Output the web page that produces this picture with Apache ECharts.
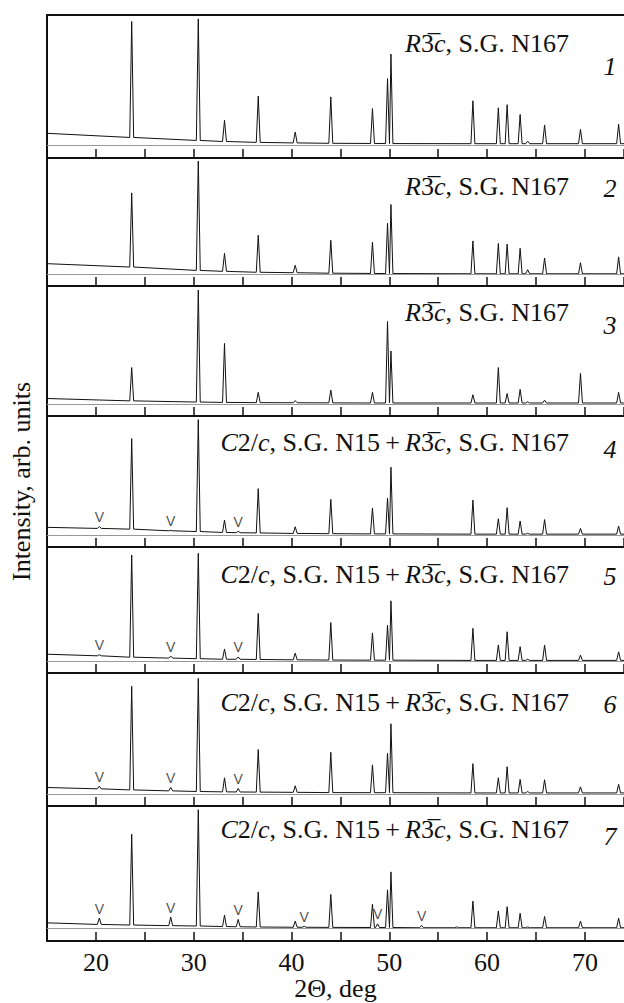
<!DOCTYPE html>
<html><head><meta charset="utf-8">
<script src="https://cdn.jsdelivr.net/npm/echarts@6/dist/echarts.min.js"></script>
<style>html,body{margin:0;padding:0;background:#fff}#c{width:624px;height:1003px}</style>
</head><body><div id="c"></div>
<script>
// ---- data ----
// 2Θ positions of reflections (deg)
const peakPos = [20.35, 23.66, 27.65, 30.47, 33.15, 34.55, 36.6, 40.38, 41.3, 44.02, 48.28, 48.8, 49.82, 50.17, 53.3, 56.9, 58.55, 61.15, 62.05, 63.38, 64.15, 65.88, 69.55, 73.45];
// peak tops per pattern (normalized intensity), null = no reflection
const height1 = [null, 0.95, null, 0.97, 0.19, null, 0.376, 0.10, null, 0.37, 0.28, null, 0.51, 0.70, null, null, 0.34, 0.286, 0.31, 0.235, 0.03, 0.154, 0.12, 0.16];
const height2 = [null, 0.70, null, 0.974, 0.18, null, 0.336, 0.078, null, 0.293, 0.276, null, 0.44, 0.60, null, null, 0.287, 0.265, 0.26, 0.224, 0.04, 0.14, 0.10, 0.15];
const height3 = [null, 0.31, null, 0.966, 0.514, null, 0.10, 0.03, null, 0.12, 0.10, null, 0.70, 0.45, null, null, 0.08, 0.31, 0.09, 0.125, 0.02, 0.034, 0.26, 0.10];
const height4 = [0.072, 0.81, 0.04, 0.97, 0.126, 0.032, 0.39, 0.07, null, 0.30, 0.227, null, 0.31, 0.57, null, null, 0.294, 0.137, 0.23, 0.118, 0.015, 0.13, 0.056, 0.076];
const height5 = [0.06, 0.93, 0.048, 0.945, 0.11, 0.04, 0.42, 0.073, null, 0.34, 0.25, null, 0.317, 0.53, null, null, 0.29, 0.145, 0.26, 0.13, 0.02, 0.143, 0.056, 0.085];
const height6 = [0.064, 0.89, 0.053, 0.956, 0.133, 0.045, 0.367, 0.067, null, 0.344, 0.24, null, 0.336, 0.58, null, null, 0.25, 0.133, 0.225, 0.12, 0.02, 0.117, 0.058, 0.08];
const height7 = [0.087, 0.77, 0.095, 0.97, 0.11, 0.076, 0.30, 0.062, 0.02, 0.28, 0.20, 0.04, 0.317, 0.463, 0.027, 0.015, 0.225, 0.145, 0.18, 0.126, 0.015, 0.10, 0.062, 0.087];
// background level under each reflection
const bg1 = [0.075, 0.058, 0.045, 0.035, 0.027, 0.024, 0.02, 0.016, 0.015, 0.013, 0.012, 0.011, 0.011, 0.011, 0.01, 0.01, 0.01, 0.01, 0.01, 0.01, 0.01, 0.01, 0.01, 0.01];
const bg2 = [0.075, 0.063, 0.045, 0.034, 0.026, 0.022, 0.018, 0.014, 0.012, 0.01, 0.008, 0.007, 0.007, 0.007, 0.006, 0.006, 0.005, 0.005, 0.005, 0.005, 0.005, 0.005, 0.005, 0.005];
const bg3 = [0.036, 0.028, 0.022, 0.018, 0.015, 0.014, 0.013, 0.012, 0.012, 0.011, 0.01, 0.01, 0.01, 0.01, 0.01, 0.01, 0.01, 0.01, 0.01, 0.01, 0.01, 0.01, 0.01, 0.01];
const bg4 = [0.056, 0.05, 0.036, 0.03, 0.022, 0.02, 0.018, 0.014, 0.013, 0.012, 0.01, 0.01, 0.01, 0.01, 0.008, 0.008, 0.008, 0.008, 0.008, 0.008, 0.008, 0.008, 0.008, 0.008];
const bg5 = [0.05, 0.038, 0.03, 0.025, 0.02, 0.02, 0.018, 0.015, 0.014, 0.013, 0.012, 0.012, 0.012, 0.012, 0.01, 0.01, 0.01, 0.01, 0.01, 0.01, 0.01, 0.01, 0.01, 0.01];
const bg6 = [0.042, 0.033, 0.025, 0.02, 0.017, 0.016, 0.015, 0.013, 0.012, 0.011, 0.01, 0.01, 0.01, 0.01, 0.008, 0.008, 0.008, 0.008, 0.008, 0.008, 0.008, 0.008, 0.008, 0.008];
const bg7 = [0.035, 0.03, 0.025, 0.022, 0.018, 0.016, 0.014, 0.012, 0.012, 0.011, 0.01, 0.01, 0.01, 0.01, 0.008, 0.008, 0.008, 0.008, 0.008, 0.008, 0.008, 0.008, 0.008, 0.008];
// background at 2Θ = 15 and at the right end
const bgEdge1 = [0.09, 0.01];
const bgEdge2 = [0.092, 0.005];
const bgEdge3 = [0.048, 0.01];
const bgEdge4 = [0.065, 0.008];
const bgEdge5 = [0.064, 0.01];
const bgEdge6 = [0.053, 0.008];
const bgEdge7 = [0.048, 0.008];
// reflections of the C2/c phase marked with "V"
const vMarks4 = [20.35, 27.65, 34.55];
const vMarks5 = [20.35, 27.65, 34.55];
const vMarks6 = [20.35, 27.65, 34.55];
const vMarks7 = [20.35, 27.65, 34.55, 41.3, 48.8, 53.3];
// texts
const tickLabels = [20, 30, 40, 50, 60, 70];
const phaseR = '{i|R}{n|3\u0305}{i|c}{n|, S.G. N167}';
const phaseCR = '{i|C}{n|2/}{i|c}{n|, S.G. N15\u2009+\u2009}{i|R}{n|3\u0305}{i|c}{n|, S.G. N167}';
const panelLabels = [phaseR, phaseR, phaseR, phaseCR, phaseCR, phaseCR, phaseCR];
const panelNumbers = ['1', '2', '3', '4', '5', '6', '7'];
const xTitle = '2\u0398, deg';
const yTitle = 'Intensity, arb. units';

// ---- layout ----
const heights = [height1, height2, height3, height4, height5, height6, height7];
const bgs = [bg1, bg2, bg3, bg4, bg5, bg6, bg7];
const edges = [bgEdge1, bgEdge2, bgEdge3, bgEdge4, bgEdge5, bgEdge6, bgEdge7];
const vMarks = [[], [], [], vMarks4, vMarks5, vMarks6, vMarks7];
const TOPS = [15, 158, 286, 416, 547, 673, 806];
const BOTS = [158, 286, 416, 547, 673, 806, 941];
const TEXT_Y = [43, 186, 312, 442, 574, 702, 829];
const NUM_Y = [66, 188, 325, 449, 576, 704, 836];
const XMIN = 15, XMAX = 74, HW = 0.2;
const SERIF = "'Liberation Serif', 'Times New Roman', serif";

function profile(h, bg, edge) {
  const pts = [[XMIN, edge[0]]];
  peakPos.forEach((p, i) => {
    if (h[i] == null) return;
    pts.push([p - HW, bg[i]], [p, h[i]], [p + HW, bg[i]]);
  });
  pts.push([XMAX, edge[1]]);
  return pts;
}

const grids = [], xAxes = [], yAxes = [], series = [], graphics = [];
for (let i = 0; i < 7; i++) {
  grids.push({ left: 47, right: 0, top: TOPS[i], height: BOTS[i] - TOPS[i], containLabel: false, outerBoundsMode: 'none' });
  const last = i === 6;
  xAxes.push({
    type: 'value', gridIndex: i, min: XMIN, max: XMAX, interval: 5,
    axisLine: { onZero: false, lineStyle: { color: '#111', width: 2 } },
    axisTick: { inside: true, length: 9, lineStyle: { color: '#111', width: 1.5 } },
    axisLabel: {
      show: last, margin: 8, showMinLabel: false, showMaxLabel: false,
      color: '#111', fontFamily: SERIF, fontSize: 26,
      formatter: v => tickLabels.includes(v) ? String(v) : ''
    },
    splitLine: { show: false },
    name: last ? xTitle : '', nameLocation: 'middle', nameGap: 33,
    nameTextStyle: { color: '#111', fontFamily: SERIF, fontSize: 26 }
  });
  yAxes.push({
    type: 'value', gridIndex: i, min: -0.1, max: 1,
    axisLine: { show: true, onZero: false, lineStyle: { color: '#111', width: 2 } },
    axisTick: { show: false }, axisLabel: { show: false }, splitLine: { show: false },
    name: i === 3 ? yTitle : '', nameLocation: 'middle', nameGap: 13, nameRotate: 90,
    nameTextStyle: { color: '#111', fontFamily: SERIF, fontSize: 26 }
  });
  series.push({
    type: 'line', xAxisIndex: i, yAxisIndex: i, data: profile(heights[i], bgs[i], edges[i]),
    symbol: 'none', lineStyle: { color: '#111', width: 1 }, silent: true, z: 3,
    markLine: {
      silent: true, symbol: 'none', label: { show: false },
      lineStyle: { color: '#999', width: 1, type: 'solid' },
      data: [{ yAxis: 0 }]
    }
  });
  if (vMarks[i].length) {
    series.push({
      type: 'scatter', xAxisIndex: i, yAxisIndex: i, symbolSize: 1,
      itemStyle: { color: 'rgba(0,0,0,0)' }, silent: true,
      data: vMarks[i].map(p => [p, heights[i][peakPos.indexOf(p)]]),
      label: { show: true, position: 'top', distance: 2, formatter: 'V',
        fontFamily: "'Liberation Sans', Arial, sans-serif", fontSize: 14, color: '#222' }
    });
  }
  graphics.push({
    type: 'text', x: 569, y: TEXT_Y[i], silent: true,
    style: {
      text: panelLabels[i], align: 'right', verticalAlign: 'middle',
      fontFamily: SERIF, fontSize: 26, fill: '#111',
      rich: {
        i: { fontFamily: SERIF, fontSize: 26, fontStyle: 'italic', color: '#111' },
        n: { fontFamily: SERIF, fontSize: 26, color: '#111' }
      }
    }
  });
  graphics.push({
    type: 'text', x: 610, y: NUM_Y[i], silent: true,
    style: { text: panelNumbers[i], align: 'center', verticalAlign: 'middle',
      fontFamily: SERIF, fontSize: 26, fontStyle: 'italic', fill: '#111' }
  });
}
// top border of the first panel
xAxes.push({
  type: 'value', gridIndex: 0, position: 'top', min: XMIN, max: XMAX,
  axisLine: { onZero: false, lineStyle: { color: '#111', width: 2 } },
  axisTick: { show: false }, axisLabel: { show: false }, splitLine: { show: false }
});

const chart = echarts.init(document.getElementById('c'), null, { renderer: 'svg', width: 624, height: 1003 });
chart.setOption({
  animation: false,
  backgroundColor: '#fff',
  grid: grids, xAxis: xAxes, yAxis: yAxes, series: series, graphic: graphics
});
</script></body></html>
